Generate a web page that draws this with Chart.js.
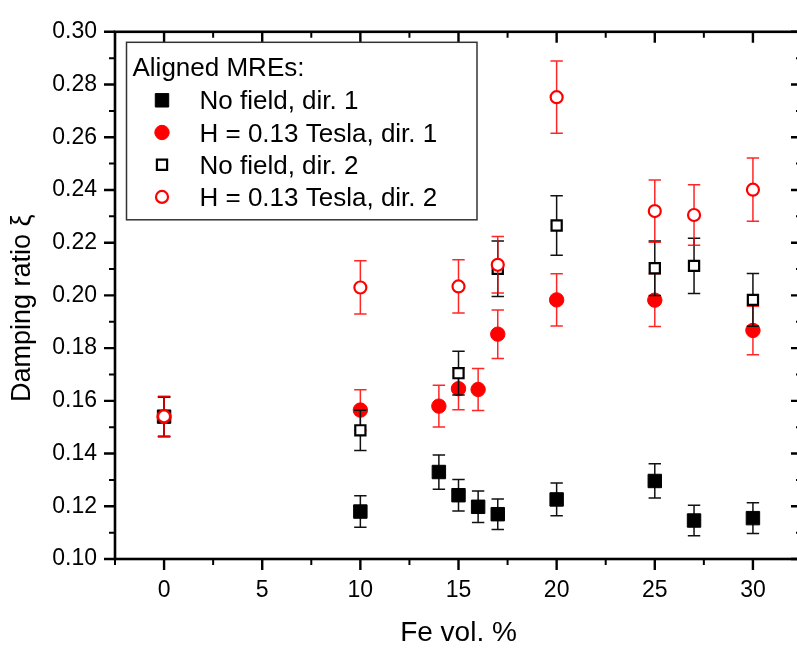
<!DOCTYPE html>
<html><head><meta charset="utf-8">
<script src="https://cdn.jsdelivr.net/npm/chart.js@4/dist/chart.umd.min.js"></script>
<style>html,body{margin:0;padding:0;overflow:hidden;background:#fff}</style>
</head><body>
<canvas id="c" width="813" height="650" style="display:block;width:813px;height:650px"></canvas>
<script>
// ---- data ----
const legendTitle = 'Aligned MREs:';
const seriesLabels = ['No field, dir. 1', 'H = 0.13 Tesla, dir. 1', 'No field, dir. 2', 'H = 0.13 Tesla, dir. 2'];

const noField1X = [0, 10, 14, 15, 16, 17, 20, 25, 27, 30];
const noField1Y = [0.1540, 0.1180, 0.1330, 0.1242, 0.1198, 0.1170, 0.1226, 0.1296, 0.1146, 0.1155];
const noField1Err = [0.0075, 0.0060, 0.0065, 0.0060, 0.0060, 0.0058, 0.0062, 0.0065, 0.0058, 0.0058];

const field1X = [0, 10, 14, 15, 16, 17, 20, 25, 30];
const field1Y = [0.1540, 0.1565, 0.1580, 0.1646, 0.1643, 0.1853, 0.1983, 0.1982, 0.1867];
const field1Err = [0.0075, 0.0077, 0.0079, 0.0080, 0.0080, 0.0092, 0.0099, 0.0100, 0.0092];

const noField2X = [0, 10, 15, 17, 20, 25, 27, 30];
const noField2Y = [0.1540, 0.1488, 0.1705, 0.2101, 0.2265, 0.2103, 0.2112, 0.1983];
const noField2Err = [0.0075, 0.0076, 0.0083, 0.0105, 0.0113, 0.0103, 0.0105, 0.0100];

const field2X = [0, 10, 15, 17, 20, 25, 27, 30];
const field2Y = [0.1541, 0.2030, 0.2034, 0.2116, 0.2752, 0.2320, 0.2305, 0.2401];
const field2Err = [0.0076, 0.0101, 0.0101, 0.0107, 0.0137, 0.0118, 0.0115, 0.0120];

const xTickValues = [0, 5, 10, 15, 20, 25, 30];
const yTickValues = [0.10, 0.12, 0.14, 0.16, 0.18, 0.20, 0.22, 0.24, 0.26, 0.28, 0.30];
const xTitle = 'Fe vol. %';
const yTitle = 'Damping ratio \u03BE';

// ---- chart ----
const FONT = '"Liberation Sans", Arial, sans-serif';
const pts = (xs, ys) => xs.map((x, i) => ({x: x, y: ys[i]}));

const errPlugin = {
  id: 'errbars',
  beforeDatasetDraw(chart, args) {
    const ds = chart.data.datasets[args.index];
    const ctx = chart.ctx, xs = chart.scales.x, ys = chart.scales.y;
    ctx.save();
    ctx.strokeStyle = ds.errColor;
    ctx.lineWidth = 1.5;
    ds.data.forEach((p, i) => {
      const e = ds.errors[i];
      const px = xs.getPixelForValue(p.x);
      const yt = ys.getPixelForValue(p.y + e), yb = ys.getPixelForValue(p.y - e);
      ctx.beginPath();
      ctx.moveTo(px, yt); ctx.lineTo(px, yb);
      ctx.moveTo(px - 6.2, yt); ctx.lineTo(px + 6.2, yt);
      ctx.moveTo(px - 6.2, yb); ctx.lineTo(px + 6.2, yb);
      ctx.stroke();
    });
    ctx.restore();
  }
};

const framePlugin = {
  id: 'frame',
  afterDatasetsDraw(chart) {
    const ctx = chart.ctx, a = chart.chartArea, xs = chart.scales.x, ys = chart.scales.y;
    ctx.save();
    ctx.strokeStyle = '#000';
    const xMinor = xTickValues.map(v => v + 2.5).filter(v => v < xs.max);
    xMinor.unshift(xTickValues[0] - 2.5);
    const yMinor = yTickValues.slice(0, -1).map(v => v + 0.01);
    const maj = 11, mnr = 6;
    ctx.lineWidth = 2.4;
    ctx.beginPath();
    xTickValues.forEach(v => {
      const p = xs.getPixelForValue(v);
      ctx.moveTo(p, a.bottom); ctx.lineTo(p, a.bottom + maj);
      ctx.moveTo(p, a.top); ctx.lineTo(p, a.top + maj);
    });
    yTickValues.forEach(v => {
      const p = ys.getPixelForValue(v);
      ctx.moveTo(a.left, p); ctx.lineTo(a.left - maj, p);
      ctx.moveTo(a.right, p); ctx.lineTo(a.right - maj, p);
    });
    ctx.stroke();
    ctx.lineWidth = 2;
    ctx.beginPath();
    xMinor.forEach(v => {
      const p = xs.getPixelForValue(v);
      ctx.moveTo(p, a.bottom); ctx.lineTo(p, a.bottom + mnr);
      ctx.moveTo(p, a.top); ctx.lineTo(p, a.top + mnr);
    });
    yMinor.forEach(v => {
      const p = ys.getPixelForValue(v);
      ctx.moveTo(a.left, p); ctx.lineTo(a.left - mnr, p);
      ctx.moveTo(a.right, p); ctx.lineTo(a.right - mnr, p);
    });
    ctx.stroke();
    ctx.lineWidth = 2.6;
    ctx.strokeRect(a.left, a.top, a.right - a.left, a.bottom - a.top);
    ctx.restore();
  },
  afterDraw(chart) {
    const ctx = chart.ctx, a = chart.chartArea;
    ctx.save();
    ctx.fillStyle = '#000';
    ctx.font = '28px ' + FONT;
    ctx.textAlign = 'center';
    ctx.textBaseline = 'alphabetic';
    ctx.fillText(xTitle, (a.left + a.right) / 2, 641);
    ctx.save();
    ctx.translate(29.5, 402);
    ctx.rotate(-Math.PI / 2);
    ctx.font = '27px ' + FONT;
    ctx.textAlign = 'left';
    ctx.fillText(yTitle, 0, 0);
    ctx.restore();
    // legend
    const bx = a.left + 11.5, by = a.top + 10.5;
    ctx.fillStyle = '#fff';
    ctx.fillRect(bx, by, 350.5, 177.5);
    ctx.strokeStyle = '#333';
    ctx.lineWidth = 1.5;
    ctx.strokeRect(bx, by, 350.5, 177.5);
    ctx.fillStyle = '#000';
    ctx.font = '26px ' + FONT;
    ctx.textAlign = 'left';
    ctx.fillText(legendTitle, bx + 6, by + 34);
    chart.data.datasets.forEach((ds, i) => {
      const cy = by + 58 + i * 32.2, cx = bx + 35.5;
      ctx.beginPath();
      if (ds.pointStyle === 'rect') {
        const s = ds.pointRadius * Math.SQRT1_2;
        ctx.rect(cx - s, cy - s, 2 * s, 2 * s);
      } else {
        ctx.arc(cx, cy, ds.pointRadius, 0, Math.PI * 2);
      }
      ctx.fillStyle = ds.backgroundColor;
      ctx.fill();
      ctx.lineWidth = ds.borderWidth;
      ctx.strokeStyle = ds.borderColor;
      ctx.stroke();
      ctx.fillStyle = '#000';
      ctx.fillText(ds.label, bx + 73, cy + 9);
    });
    ctx.restore();
  }
};

new Chart(document.getElementById('c'), {
  type: 'scatter',
  data: {
    datasets: [
      {label: seriesLabels[0], data: pts(noField1X, noField1Y), errors: noField1Err, errColor: '#111',
       pointStyle: 'rect', pointRadius: 9.5, backgroundColor: '#000', borderColor: '#000', borderWidth: 1, order: 4},
      {label: seriesLabels[1], data: pts(field1X, field1Y), errors: field1Err, errColor: 'rgba(255,0,0,0.85)',
       pointStyle: 'circle', pointRadius: 7.2, backgroundColor: '#ff0000', borderColor: '#ff0000', borderWidth: 1, order: 3},
      {label: seriesLabels[2], data: pts(noField2X, noField2Y), errors: noField2Err, errColor: '#111',
       pointStyle: 'rect', pointRadius: 7.2, backgroundColor: '#fff', borderColor: '#000', borderWidth: 2.2, order: 2},
      {label: seriesLabels[3], data: pts(field2X, field2Y), errors: field2Err, errColor: 'rgba(255,0,0,0.85)',
       pointStyle: 'circle', pointRadius: 6, backgroundColor: '#fff', borderColor: '#ff0000', borderWidth: 2.2, order: 1}
    ]
  },
  options: {
    responsive: false,
    animation: false,
    devicePixelRatio: 1,
    events: [],
    layout: {padding: {top: 12, right: 11, left: 0, bottom: 0}},
    plugins: {legend: {display: false}, tooltip: {enabled: false}},
    scales: {
      x: {
        type: 'linear', min: -2.5, max: 32.5,
        grid: {display: false, drawTicks: false}, border: {display: false},
        afterBuildTicks: s => { s.ticks = xTickValues.map(v => ({value: v})); },
        afterFit: s => { s.height = 91; },
        ticks: {padding: 18, color: '#000', font: {family: FONT, size: 23}, maxRotation: 0,
                callback: v => String(v)}
      },
      y: {
        type: 'linear', min: 0.10, max: 0.30,
        grid: {display: false, drawTicks: false}, border: {display: false},
        afterBuildTicks: s => { s.ticks = yTickValues.map(v => ({value: v})); },
        afterFit: s => { s.width = 115; },
        ticks: {padding: 18, color: '#000', font: {family: FONT, size: 23},
                callback: v => Number(v).toFixed(2)}
      }
    }
  },
  plugins: [errPlugin, framePlugin]
});
</script>
</body></html>
